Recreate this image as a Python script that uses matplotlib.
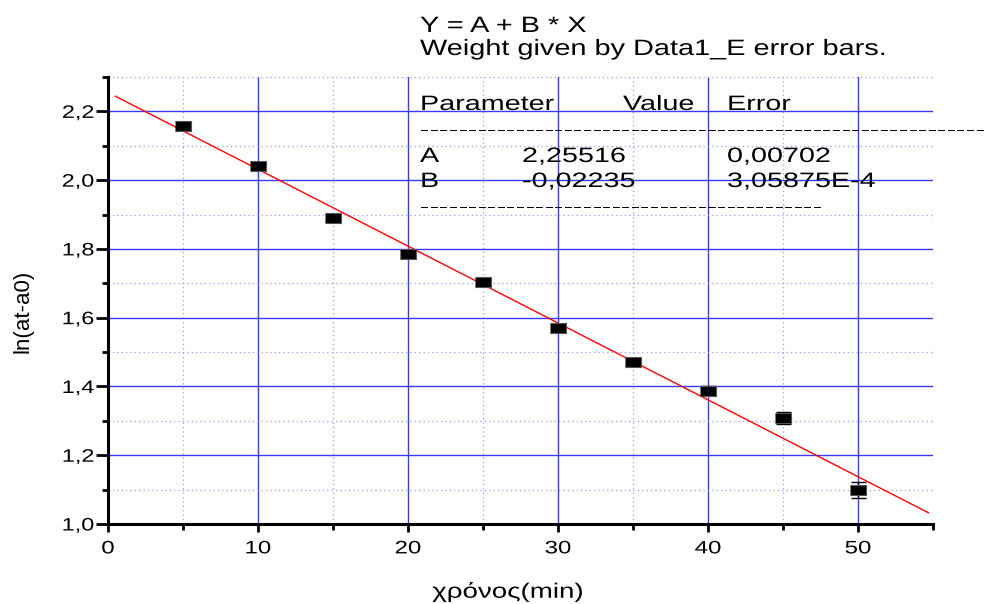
import matplotlib.pyplot as plt
import numpy as np
from matplotlib.ticker import MultipleLocator, FuncFormatter
from matplotlib.patheffects import AbstractPathEffect
from matplotlib.transforms import Affine2D

plt.rcParams["font.family"] = ["Liberation Sans", "DejaVu Sans"]

# measured points, with their error bars
time_min = [5, 10, 15, 20, 25, 30, 35, 40, 45, 50]
ln_a = [2.157, 2.041, 1.890, 1.785, 1.703, 1.570, 1.471, 1.388, 1.308, 1.099]
ln_a_err = [0.008, 0.008, 0.009, 0.009, 0.010, 0.011, 0.012, 0.013, 0.017, 0.022]

# linear fit Y = A + B*X
fit_a = 2.25516
fit_b = -0.02235
fit_a_err = "0,00702"
fit_b_err = "3,05875E-4"
fit_x = [0.5, 54.7]


class Stretch(AbstractPathEffect):
    """Widen glyphs horizontally about the left, centre or right of the text."""

    def __init__(self, sx, anchor=0.0):
        super().__init__()
        self.sx = sx
        self.anchor = anchor

    def draw_path(self, renderer, gc, tpath, affine, rgbFace=None):
        ext = tpath.get_extents()
        x0 = 0.0 if self.anchor == 0 else ext.x0 + self.anchor * ext.width
        st = Affine2D().translate(-x0, 0).scale(self.sx, 1).translate(x0, 0)
        renderer.draw_path(gc, tpath, st + affine, rgbFace)


def comma(v, p):
    return f"{v:.1f}".replace(".", ",")


fig = plt.figure(figsize=(9.87, 6.04), dpi=100)
ax = fig.add_axes([108 / 987, 1 - 524 / 604, (933 - 108) / 987, (524 - 77) / 604])

ax.set_xlim(0, 55)
ax.set_ylim(1.0, 2.3)
ax.xaxis.set_major_locator(MultipleLocator(10))
ax.xaxis.set_minor_locator(MultipleLocator(5))
ax.yaxis.set_major_locator(MultipleLocator(0.2))
ax.yaxis.set_minor_locator(MultipleLocator(0.1))
ax.yaxis.set_major_formatter(FuncFormatter(comma))
ax.xaxis.set_major_formatter(FuncFormatter(lambda v, p: f"{v:.0f}"))

ax.grid(which="major", color="#3a3aff", lw=1.0, ls="-")
ax.grid(which="minor", color="#9a9aff", lw=0.9, ls=(0, (1, 2.5)))
ax.set_axisbelow(True)

for s in ["top", "right"]:
    ax.spines[s].set_visible(False)
for s in ["left", "bottom"]:
    ax.spines[s].set_linewidth(2.2)
ax.tick_params(axis="y", which="major", direction="out", length=8.6, width=2,
               labelsize=13, pad=1.5)
ax.tick_params(axis="y", which="minor", direction="out", length=4.3, width=2)
ax.tick_params(axis="x", which="major", direction="out", length=5.8, width=2,
               labelsize=13, pad=6)
ax.tick_params(axis="x", which="minor", direction="out", length=4.3, width=2)

for t in ax.xaxis.get_major_ticks():
    t.label1.set_path_effects([Stretch(1.33, 0.5)])
for t in ax.yaxis.get_major_ticks():
    t.label1.set_path_effects([Stretch(1.3, 1.0)])

xf = np.array(fit_x)
ax.plot(xf, fit_a + fit_b * xf, color="red", lw=1.0, zorder=3)

rect = [(-1.6, -1), (1.6, -1), (1.6, 1), (-1.6, 1)]
ax.errorbar(time_min, ln_a, yerr=ln_a_err, fmt="none", ecolor="black",
            elinewidth=1, capsize=5.4, capthick=1, zorder=4)
ax.plot(time_min, ln_a, ls="none", marker=rect, ms=11.5, color="black",
        mec="#555555", mew=0.8, zorder=5)

ax.set_xlabel("χρόνος(min)", fontsize=15, va="center",
              path_effects=[Stretch(1.33, 0.5)])
ax.xaxis.set_label_coords((508 - 108) / 825, -(592 - 524) / 447)
ax.set_ylabel("ln(at-a0)", fontsize=16, va="center")
ax.yaxis.set_label_coords((23 - 108) / 825, (524 - 311) / 447)


def ftext(px, py, s, size=15, sx=1.38):
    fig.text(px / 987, 1 - py / 604, s, fontsize=size, va="baseline",
             path_effects=[Stretch(sx)])


ftext(420, 32, "Y = A + B * X", 16, 1.3)
ftext(420, 55, "Weight given by Data1_E error bars.", 16, 1.3)
ftext(420, 110, "Parameter")
ftext(623, 110, "Value")
ftext(727, 110, "Error")
ftext(420, 136, "-" * 62)
ftext(420, 162, "A")
ftext(522, 162, "2,25516")
ftext(727, 162, fit_a_err)
ftext(420, 187, "B")
ftext(522, 187, "-0,02235")
ftext(727, 187, fit_b_err)
ftext(420, 213, "-" * 42)

fig.savefig("out.png", dpi=100)
